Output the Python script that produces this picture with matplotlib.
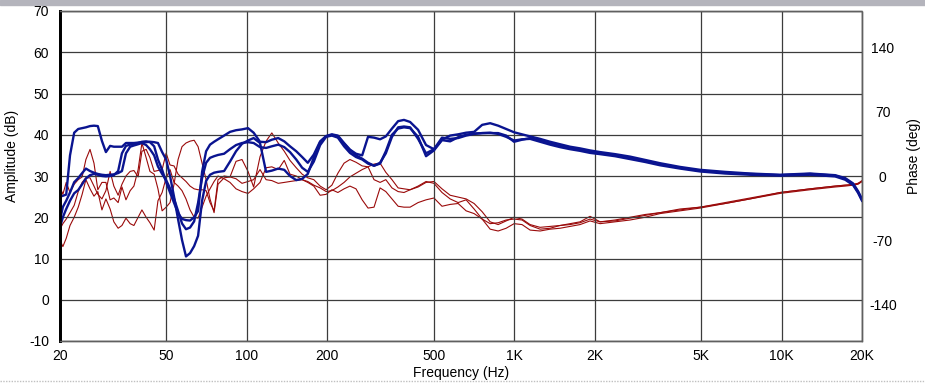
import matplotlib
matplotlib.use("Agg")
import matplotlib.pyplot as plt
from matplotlib.ticker import FixedLocator, NullLocator

plt.rcParams['font.family'] = ['Liberation Sans', 'DejaVu Sans']
plt.rcParams['axes.unicode_minus'] = False

# frequency points (Hz), shared by all traces
freq = [
    20.0, 20.5, 21.1, 21.8, 22.6, 23.4, 24.2, 25.0, 25.9, 26.8,
    27.7, 28.7, 29.7, 30.8, 31.8, 33.0, 34.1, 35.3, 36.6, 37.8,
    39.2, 40.5, 42.0, 43.4, 45.0, 46.5, 48.2, 49.9, 51.6, 53.4,
    55.3, 57.2, 59.2, 61.3, 63.5, 65.7, 68.0, 70.4, 72.8, 75.4,
    78.0, 82.2, 86.5, 91.1, 95.9, 101, 106, 112, 118, 124,
    131, 138, 145, 153, 161, 169, 178, 188, 198, 208,
    219, 231, 243, 256, 270, 284, 299, 315, 331, 349,
    368, 387, 408, 437, 468, 501, 537, 576, 617, 661,
    708, 759, 813, 871, 933, 999, 1070, 1147, 1250, 1362,
    1484, 1618, 1763, 1922, 2095, 2384, 2713, 3088, 3513, 4173,
    4958, 6150, 7628, 9880, 12790, 15860, 17300, 18520, 19340, 20000,
]

# amplitude traces (dB)
amp_1 = [
    25, 25.2, 25.5, 35, 40.5, 41.4, 41.6, 41.8, 42.1, 42.2,
    42.1, 38.5, 35.8, 37.3, 37.1, 37.1, 37.1, 38, 38, 38,
    38.1, 38.2, 38.2, 38.3, 38.2, 38, 35.8, 34, 30, 25,
    19.5, 14.5, 10.5, 11.3, 13, 15.5, 24, 28.8, 30.3, 30.8,
    31, 31.2, 33.5, 36, 37.8, 38.6, 39.2, 38, 31, 31.3,
    31.8, 31.5, 30, 29, 29.3, 30.5, 34.5, 38.2, 39.6, 40,
    39.5, 37.8, 36.3, 35, 34.2, 33.2, 32.5, 33.2, 35.5, 39.5,
    41.8, 42, 41.8, 39, 35.5, 36.5, 39.3, 39, 39.2, 39.8,
    40.2, 40.4, 40.5, 40.2, 39.5, 38.6, 38.9, 39, 38.3, 37.6,
    37, 36.5, 36.1, 35.6, 35.3, 34.8, 34.1, 33.4, 32.6, 31.8,
    31.1, 30.6, 30.3, 30.1, 30.3, 29.9, 29.1, 27.8, 25.9, 24,
]
amp_2 = [
    19.3, 22.5, 24, 26, 28.5, 29.5, 30.7, 31.8, 31.2, 30.8,
    30.5, 30.3, 30.2, 30.3, 30.4, 30.7, 31.2, 35.5, 37.1, 37.4,
    37.7, 38, 37.5, 36.5, 35, 32.3, 30.5, 29, 27, 24.5,
    21.5, 18.5, 17.1, 17.5, 19, 23.5, 29.5, 33.2, 34.4, 34.8,
    35.1, 35.4, 36.5, 37.5, 38, 38.2, 38, 37, 36.8, 37.2,
    37.6, 37, 35.8, 34, 32, 31, 33.5, 37.5, 39.5, 39.8,
    39.3, 37.2, 35.6, 34.6, 34, 33, 32.5, 33, 36, 40,
    41.5, 41.8, 41.6, 39.5, 34.8, 36.2, 38.7, 38.4, 39.4, 40,
    40.3, 40.4, 40.4, 40.4, 39.8, 38.3, 38.8, 39.2, 38.6, 37.9,
    37.3, 36.8, 36.4, 35.9, 35.6, 35.1, 34.4, 33.7, 32.9, 32,
    31.3, 30.8, 30.5, 30.2, 30.5, 30.1, 29.3, 28, 26.1, 24.2,
]
amp_3 = [
    17.6, 20, 22, 24, 25.8, 26.6, 28, 29.4, 30.2, 30.5,
    30.3, 30, 29.9, 30, 30.2, 31.2, 35.5, 37.3, 37.6, 37.8,
    38, 38.3, 38.4, 38.2, 37.2, 34, 31.5, 28.5, 26, 23.5,
    21, 19.6, 19.3, 19.2, 20, 21.5, 31, 36, 37.6, 38.3,
    38.9, 39.8, 40.7, 41.1, 41.3, 41.6, 40.5, 38.3, 38.2, 38.8,
    39.2, 38.4, 37.2, 36, 34.6, 33.2, 35.2, 38.4, 39.7, 40.1,
    39.8, 38, 36.4, 35.4, 35, 39.5, 39.3, 38.9, 39.6, 41.5,
    43.3, 43.6, 43.1, 41.2, 37.5, 36.5, 38.8, 39.8, 40.1, 40.5,
    40.7, 42.4, 42.8, 42.2, 41.4, 40.6, 40.1, 39.6, 39, 38.3,
    37.7, 37.1, 36.7, 36.2, 35.8, 35.3, 34.7, 33.9, 33.1, 32.2,
    31.5, 31, 30.6, 30.3, 30.6, 30.2, 29.5, 28.2, 26.3, 24.4,
]

# phase traces (deg)
phase_1 = [
    -12, -20, -7, -18, -9, -4, -1, 18, 29, 14,
    -15, -7, -7, -26, -24, -29, -12, -26, -16, -11,
    7, 36, 20, 5, 2, -14, -38, -34, -29, -9,
    18, 32, 36, 38, 39, 32, 14, -4, -25, -40,
    -9, -2, -1, 16, 18, 5, -12, 21, 38, 47,
    36, 27, 17, 9, 2, -2, -4, -11, -15, -10,
    3, 14, 18, 15, 11, 10, 13, 14, 4, -4,
    -13, -14, -15, -12, -7, -6, -14, -21, -23, -25,
    -30, -39, -50, -53, -49, -45, -47, -53, -56, -55,
    -54, -52, -50, -44, -50, -48, -45, -42, -40, -36,
    -34, -29, -24, -18, -14, -11, -10, -9, -8, -5,
]
phase_2 = [
    -70, -77, -68, -54, -45, -34, -20, -4, -14, -22,
    -17, -37, -25, -36, -50, -57, -54, -46, -52, -54,
    -45, -37, -45, -51, -59, -27, -18, -2, 7, -7,
    -11, -16, -25, -37, -45, -46, -34, -22, -14, -6,
    0, -3, -7, -14, -17, -19, -14, -7, 9, 10,
    7, 17, 2, 0, -4, -7, -11, -21, -20, -15,
    -18, -14, -11, -14, -26, -35, -34, -13, -17, -25,
    -33, -34, -34, -29, -26, -24, -33, -31, -30, -38,
    -41, -47, -58, -60, -57, -52, -53, -59, -60, -58,
    -57, -55, -53, -49, -52, -50, -48, -45, -41, -38,
    -35, -30, -25, -19, -15, -12, -11, -10, -9, -6,
]
phase_3 = [
    -58, -52, -47, -40, -32, -17, -7, -2, -2, -11,
    -20, -25, -16, 5, -11, -21, -9, 0, 5, 6,
    -1, 27, 29, 20, 5, 6, 7, 25, 12, 11,
    2, -2, -6, -11, -14, -15, -15, -16, -29, -38,
    -4, 0, -1, -3, -8, -6, -4, 7, -4, -5,
    -8, -7, -6, -5, -4, -6, -10, -13, -17, -16,
    -12, -7, -1, 3, 7, 10, -4, -7, -4, -13,
    -17, -18, -15, -11, -6, -8, -18, -25, -29, -26,
    -36, -47, -52, -51, -48, -47, -48, -54, -58, -57,
    -54, -53, -51, -47, -50, -49, -46, -43, -40, -37,
    -34, -30, -25, -18, -14, -11, -10, -10, -8, -6,
]

freq_ticks = [20, 50, 100, 200, 500, 1000, 2000, 5000, 10000, 20000]
freq_labels = ['20', '50', '100', '200', '500', '1K', '2K', '5K', '10K', '20K']
amp_ticks = list(range(-10, 71, 10))
phase_ticks = [-140, -70, 0, 70, 140]

blue = '#0a1490'
red = '#9a0a0a'
grid_col = '#3c3c3c'

fig = plt.figure(figsize=(9.25, 3.83), dpi=100)
ax = fig.add_axes([60 / 925, 42 / 383, 802 / 925, 330 / 383])
ax2 = ax.twinx()

# phase traces first, amplitude on top
for ph in (phase_1, phase_2, phase_3):
    ax2.plot(freq, ph, color=red, lw=0.8)
for a in (amp_1, amp_2, amp_3):
    ax.plot(freq, a, color=blue, lw=1.7)

ax.set_zorder(ax2.get_zorder() + 1)
ax.patch.set_visible(False)

ax.set_xscale('log')
ax.set_xlim(20, 20000)
ax.set_ylim(-10, 70)
ax2.set_ylim(-180, 180)

ax.xaxis.set_major_locator(FixedLocator(freq_ticks))
ax.xaxis.set_minor_locator(NullLocator())
ax.set_xticklabels(freq_labels)
ax.set_yticks(amp_ticks)
ax2.set_yticks(phase_ticks)

ax.grid(True, which='major', color=grid_col, lw=0.9)
ax.tick_params(axis='both', length=0, labelsize=10, colors='black')
ax.tick_params(axis='x', pad=6)
ax.tick_params(axis='y', pad=8)
ax2.tick_params(axis='y', length=0, labelsize=10, pad=15)
for lab in ax2.get_yticklabels():
    lab.set_horizontalalignment('center')

for a_ in (ax, ax2):
    for side in ('top', 'right', 'bottom'):
        a_.spines[side].set_color('#606060')
        a_.spines[side].set_linestyle((0, (1, 1)))
        a_.spines[side].set_linewidth(1.0)
    a_.spines['left'].set_color('black')
    a_.spines['left'].set_linewidth(2.0)

ax.set_xlabel('Frequency (Hz)', fontsize=10, labelpad=2)
fig.text(12 / 925, 1 - 156 / 383, 'Amplitude (dB)', rotation=90,
         ha='center', va='center', fontsize=10)
fig.text(914 / 925, 1 - 156 / 383, 'Phase (deg)', rotation=90,
         ha='center', va='center', fontsize=10)

# window chrome remnants
fig.patches.append(plt.Rectangle((0, 1 - 5 / 383), 1, 5 / 383,
                                 transform=fig.transFigure,
                                 color='#b4b4bc', zorder=0))
fig.add_artist(plt.Line2D([0, 1], [2 / 383, 2 / 383], transform=fig.transFigure,
                          color='#c0c0c0', lw=1, ls=(0, (1, 1))))

fig.savefig('out.png', dpi=100)
